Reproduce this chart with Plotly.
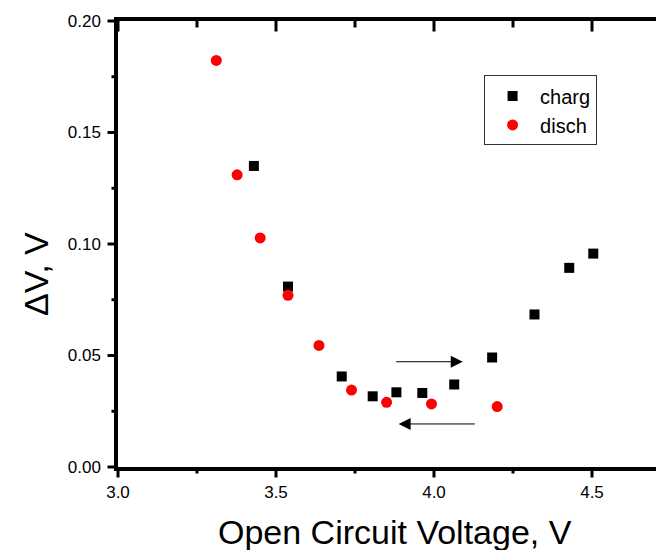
import plotly.graph_objects as go

# Data
charg_x = [3.430, 3.538, 3.708, 3.806, 3.881, 3.963, 4.064, 4.184, 4.318, 4.428, 4.504]
charg_y = [0.1350, 0.0809, 0.0406, 0.0317, 0.0335, 0.0332, 0.0370, 0.0491, 0.0684, 0.0893, 0.0957]
disch_x = [3.311, 3.377, 3.450, 3.538, 3.636, 3.739, 3.850, 3.992, 4.200]
disch_y = [0.1823, 0.1310, 0.1027, 0.0770, 0.0545, 0.0345, 0.0290, 0.0283, 0.0271]

x_ticks = [3.0, 3.5, 4.0, 4.5]
x_tick_labels = ["3.0", "3.5", "4.0", "4.5"]
x_minor_ticks = [3.25, 3.75, 4.25]
y_ticks = [0.00, 0.05, 0.10, 0.15, 0.20]
y_tick_labels = ["0.00", "0.05", "0.10", "0.15", "0.20"]
y_minor_ticks = [0.025, 0.075, 0.125, 0.175]

FONT = "Liberation Sans, Arial, sans-serif"

fig = go.Figure()
fig.add_trace(go.Scatter(x=charg_x, y=charg_y, mode="markers", name="charg",
                         marker=dict(symbol="square", size=10, color="black")))
fig.add_trace(go.Scatter(x=disch_x, y=disch_y, mode="markers", name="disch",
                         marker=dict(symbol="circle", size=11, color="#FF0000")))

xr = [3.0, 4.75]
yr = [0.0, 0.2]

common = dict(showgrid=False, zeroline=False, showline=True, linecolor="black",
              linewidth=3.5, ticks="", automargin=False, mirror=True)

fig.update_layout(
    template="simple_white",
    width=664, height=550,
    margin=dict(l=110, r=1, t=12.5, b=90.5),
    paper_bgcolor="white", plot_bgcolor="white",
    font=dict(family=FONT, color="black", size=17),
    showlegend=True,
    legend=dict(x=0.662, y=0.878, xanchor="left", yanchor="top",
                bordercolor="#333333", borderwidth=1, bgcolor="white",
                font=dict(size=20, family=FONT), tracegroupgap=0,
                itemwidth=45),
    xaxis=dict(range=xr, tickmode="array", tickvals=x_ticks, ticktext=x_tick_labels,
               tickfont=dict(size=17), ticklabelstandoff=7, **common),
    yaxis=dict(range=yr, tickmode="array", tickvals=y_ticks, ticktext=y_tick_labels,
               tickfont=dict(size=17), ticklabelstandoff=10, **common),
)

annotations = [
    dict(text="Open Circuit Voltage, V", xref="paper", yref="paper",
         x=0.501, y=-0.1465, xanchor="center", yanchor="middle", showarrow=False,
         font=dict(size=34, family=FONT)),
    dict(text="ΔV, V", xref="paper", yref="paper",
         x=-0.148, y=0.433, xanchor="center", yanchor="middle", showarrow=False,
         textangle=-90, font=dict(size=34, family=FONT)),
    # direction arrows
    dict(x=4.091, y=0.0472, ax=3.876, ay=0.0472, xref="x", yref="y", axref="x", ayref="y",
         text="", showarrow=True, arrowhead=2, arrowsize=2.4, arrowwidth=1, arrowcolor="black"),
    dict(x=3.888, y=0.0193, ax=4.134, ay=0.0193, xref="x", yref="y", axref="x", ayref="y",
         text="", showarrow=True, arrowhead=2, arrowsize=2.4, arrowwidth=1, arrowcolor="black"),
]

TICK_STYLE = dict(text="", showarrow=True, arrowhead=0, arrowwidth=3, arrowcolor="black",
                  font=dict(size=1), borderpad=0, standoff=0, startstandoff=0)

# tick marks as head-less arrow annotations positioned on the axis scales
def xtick(v, length):
    annotations.append(dict(x=v, y=0, xref="x", yref="paper", ax=0, ay=length, **TICK_STYLE))
    annotations.append(dict(x=v, y=1, xref="x", yref="paper", ax=0, ay=length, **TICK_STYLE))

def ytick(v, length):
    annotations.append(dict(x=0, y=v, xref="paper", yref="y", ax=-length, ay=0, **TICK_STYLE))
    annotations.append(dict(x=1, y=v, xref="paper", yref="y", ax=-length, ay=0, **TICK_STYLE))

for v in x_ticks:
    xtick(v, 11)
for v in x_minor_ticks:
    xtick(v, 7)
for v in y_ticks:
    ytick(v, 11)
for v in y_minor_ticks:
    ytick(v, 7)

fig.update_layout(annotations=annotations)

fig.write_html("out.html")
